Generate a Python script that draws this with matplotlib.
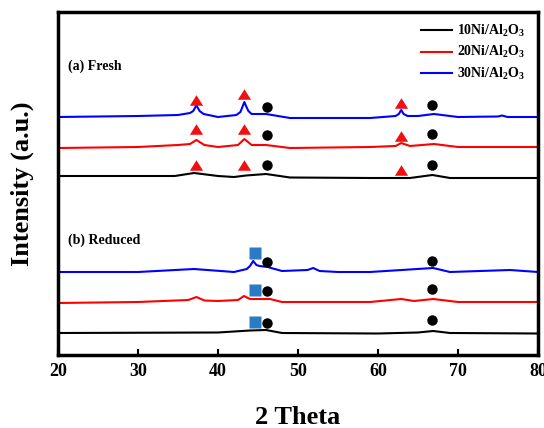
import numpy as np
import matplotlib
matplotlib.use('Agg')
import matplotlib.pyplot as plt

plt.rcParams['font.family'] = ['Liberation Serif', 'DejaVu Serif']
plt.rcParams['font.weight'] = 'bold'
plt.rcParams['mathtext.default'] = 'regular'

# XRD patterns (2 theta, intensity with stacking offset)
fresh_30_x = [20, 30, 35, 36.5, 36.9, 37.15, 37.3, 37.45, 37.7, 38.2, 40, 42.3, 42.8, 43.1, 43.3, 43.5, 43.8, 44.2, 46, 49, 55, 59, 62.2, 62.6, 62.9, 63.2, 63.7, 65, 67, 70, 75.0, 75.5, 76.2, 80]
fresh_30_y = [238, 239, 240, 242, 244, 247.5, 250, 247.5, 244, 241, 238, 240, 243, 249, 253, 249, 244, 241, 241, 237, 237, 237, 239, 241, 245, 241, 239, 239, 241, 238, 238.5, 239.5, 238, 238]

fresh_20_x = [20, 30, 35, 36.5, 37.3, 38.3, 40, 42.5, 43.3, 44.2, 46, 49, 59, 62.2, 62.9, 64, 67, 70, 80]
fresh_20_y = [207, 208, 210, 211, 215, 210, 208, 210, 216, 210, 210, 207, 208, 209, 212, 209, 211, 208, 208]

fresh_10_x = [20, 30, 34.6, 37, 40, 42, 43.5, 46, 49, 59, 64, 66.8, 69, 80]
fresh_10_y = [179, 179, 179, 182, 179, 178, 179.5, 181, 177.5, 177, 177, 180, 177, 177]

red_30_x = [20, 30, 37, 42, 43.6, 44.0, 44.4, 44.8, 45.2, 46.2, 48, 51.2, 51.9, 52.7, 55, 59, 66.9, 69, 76.5, 80]
red_30_y = [83, 83, 86, 83, 86, 89, 94, 90, 89, 88, 84, 85, 87, 84, 83, 83, 87, 83, 85, 83]

red_20_x = [20, 30, 36.3, 37.3, 38.3, 40, 42.5, 43.25, 44, 46.5, 48, 59, 62.9, 64.5, 66.9, 70, 80]
red_20_y = [52, 53, 55, 58, 54.5, 54, 55, 59, 56, 56, 53, 53, 56, 54, 56, 53, 53]

red_10_x = [20, 40, 44, 46, 48, 60, 65, 66.9, 69, 80]
red_10_y = [22, 22.5, 24.5, 25, 22, 21.5, 22.5, 24, 22, 21.5]

labels = ['10Ni/Al$_2$O$_3$', '20Ni/Al$_2$O$_3$', '30Ni/Al$_2$O$_3$']
colors = ['black', 'red', 'blue']

# phase markers
tri_x = [37.3, 43.3, 62.9, 37.3, 43.3, 62.9, 37.3, 43.3, 62.9]
tri_y = [255, 261, 252, 226, 226, 219, 190, 190, 185]
dot_x = [46.1, 66.8, 46.1, 66.8, 46.1, 66.8, 46.1, 66.8, 46.1, 66.8, 46.1, 66.8]
dot_y = [248, 250, 220, 221, 190, 190, 93, 94, 64, 66, 32, 35]
sq_x = [44.6, 44.6, 44.6]
sq_y = [102, 65, 33]

fig = plt.figure(figsize=(5.44, 4.28), dpi=100)
ax = fig.add_axes([58 / 544, 1 - 355 / 428, 480 / 544, 343 / 428])

h10, = ax.plot(fresh_10_x, fresh_10_y, color=colors[0], lw=1.5, label=labels[0])
h20, = ax.plot(fresh_20_x, fresh_20_y, color=colors[1], lw=1.5, label=labels[1])
h30, = ax.plot(fresh_30_x, fresh_30_y, color=colors[2], lw=1.5, label=labels[2])
ax.plot(red_10_x, red_10_y, color=colors[0], lw=1.5)
ax.plot(red_20_x, red_20_y, color=colors[1], lw=1.5)
ax.plot(red_30_x, red_30_y, color=colors[2], lw=1.5)

tri = [(0, 0.8), (-1, -0.8), (1, -0.8)]
ax.plot(tri_x, tri_y, ls='none', marker=tri, ms=9.5, color='#f01010', mec='none')
ax.plot(dot_x, dot_y, ls='none', marker='o', ms=7.5, color='black', mec='none')
ax.plot(sq_x, sq_y, ls='none', marker='s', ms=8, color='#2b7bc4', mec='none')

ax.text(0.02, 289, '(a) Fresh', transform=ax.get_yaxis_transform(), fontsize=10,
        fontweight='bold', va='center', ha='left')
ax.text(0.02, 115, '(b) Reduced', transform=ax.get_yaxis_transform(), fontsize=10,
        fontweight='bold', va='center', ha='left')

ax.set_xlim(20, 80)
ax.set_ylim(0, 343)
ax.set_xticks(np.arange(20, 81, 10))
ax.set_yticks([])
ax.tick_params(axis='x', direction='in', length=4, width=1.5, labelsize=13, pad=6)
for lab in ax.get_xticklabels():
    lab.set_fontweight('bold')
for sp in ax.spines.values():
    sp.set_linewidth(2.5)

ax.set_xlabel('2 Theta', fontsize=19, fontweight='bold')
ax.set_ylabel('Intensity (a.u.)', fontsize=19, fontweight='bold')
ax.xaxis.set_label_coords(0.5, -0.15)
ax.yaxis.set_label_coords(-0.05, 0.5)

ax.legend(handles=[h10, h20, h30], loc='upper right', bbox_to_anchor=(1.0, 1.006),
          frameon=False, prop={'size': 10, 'weight': 'bold'}, handlelength=2.2,
          labelspacing=0.42, handletextpad=0.4)

fig.savefig('out.png', dpi=100)
